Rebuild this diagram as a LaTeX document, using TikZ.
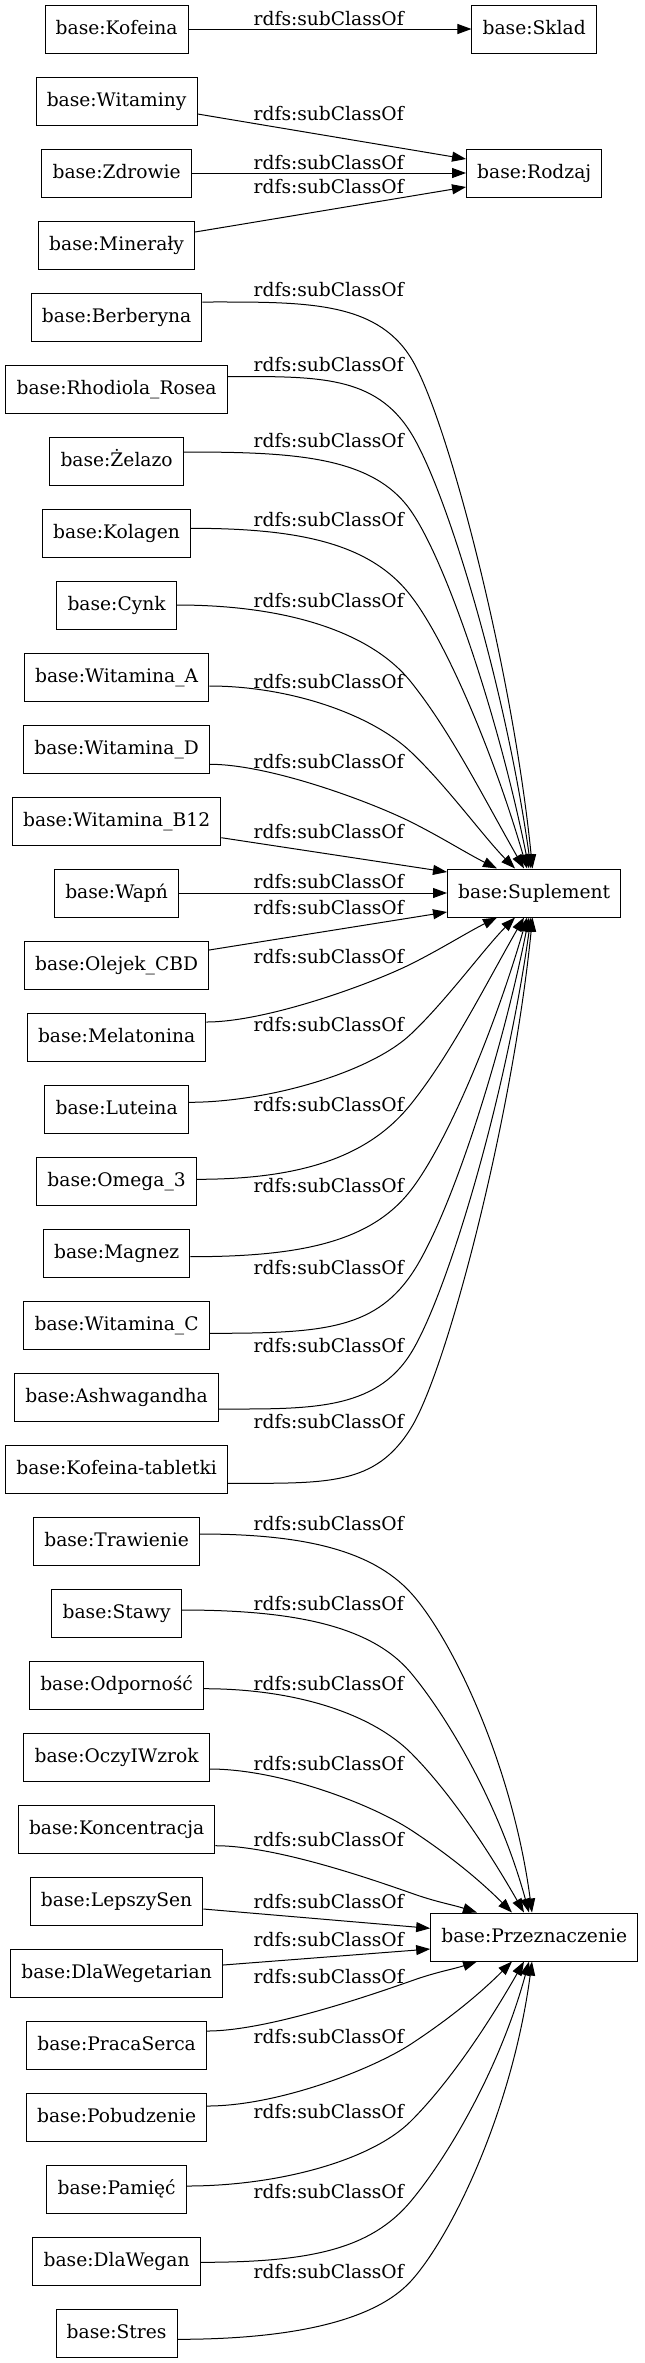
\documentclass[tikz,border=0pt]{standalone}
\usepackage{fontspec}
\setmainfont{DejaVu Serif}
\usetikzlibrary{arrows.meta,calc}

\begin{document}
\begin{tikzpicture}[
        x=0.75pt, y=-0.75pt,
        cls/.style={draw, rectangle, line width=0.75pt, minimum height=36pt, minimum width=54pt,
            inner xsep=8pt, inner ysep=0pt, text height=10.5pt, text depth=3pt,
            font=\fontsize{14pt}{16pt}\selectfont},
        lbl/.style={inner sep=0pt, font=\fontsize{14pt}{16pt}\selectfont},
        sub/.style={draw, line width=0.75pt, -{Triangle[length=10.5pt,width=7.5pt]}},
    ]
    \path[use as bounding box, fill=white] (0,0) rectangle (644,2363);

    % classes on the right
    \node[cls](Sklad) at (534.2,29) {base:Sklad};
    \node[cls](Rodzaj) at (534.2,173) {base:Rodzaj};
    \node[cls](Suplement) at (534.2,893) {base:Suplement};
    \node[cls](Przeznaczenie) at (534.2,1937) {base:Przeznaczenie};

    % subclasses on the left
    \node[cls](Kofeina) at (116.6,29) {base:Kofeina};
    \node[cls](Witaminy) at (116.6,101) {base:Witaminy};
    \node[cls](Zdrowie) at (116.6,173) {base:Zdrowie};
    \node[cls](Mineraly) at (116.6,245) {base:Minerały};
    \node[cls](Berberyna) at (116.6,317) {base:Berberyna};
    \node[cls](Rhodiola) at (116.6,389) {base:Rhodiola\_Rosea};
    \node[cls](Zelazo) at (116.6,461) {base:Żelazo};
    \node[cls](Kolagen) at (116.6,533) {base:Kolagen};
    \node[cls](Cynk) at (116.6,605) {base:Cynk};
    \node[cls](WitA) at (116.6,677) {base:Witamina\_A};
    \node[cls](WitD) at (116.6,749) {base:Witamina\_D};
    \node[cls](WitB12) at (116.6,821) {base:Witamina\_B12};
    \node[cls](Wapn) at (116.6,893) {base:Wapń};
    \node[cls](Olejek) at (116.6,965) {base:Olejek\_CBD};
    \node[cls](Melatonina) at (116.6,1037) {base:Melatonina};
    \node[cls](Luteina) at (116.6,1109) {base:Luteina};
    \node[cls](Omega) at (116.6,1181) {base:Omega\_3};
    \node[cls](Magnez) at (116.6,1253) {base:Magnez};
    \node[cls](WitC) at (116.6,1325) {base:Witamina\_C};
    \node[cls](Ashwagandha) at (116.6,1397) {base:Ashwagandha};
    \node[cls](KofeinaTab) at (116.6,1469) {base:Kofeina-tabletki};
    \node[cls](Trawienie) at (116.6,1541) {base:Trawienie};
    \node[cls](Stawy) at (116.6,1613) {base:Stawy};
    \node[cls](Odpornosc) at (116.6,1685) {base:Odporność};
    \node[cls](Oczy) at (116.6,1757) {base:OczyIWzrok};
    \node[cls](Koncentracja) at (116.6,1829) {base:Koncentracja};
    \node[cls](LepszySen) at (116.6,1901) {base:LepszySen};
    \node[cls](DlaWegetarian) at (116.6,1973) {base:DlaWegetarian};
    \node[cls](PracaSerca) at (116.6,2045) {base:PracaSerca};
    \node[cls](Pobudzenie) at (116.6,2117) {base:Pobudzenie};
    \node[cls](Pamiec) at (116.6,2189) {base:Pamięć};
    \node[cls](DlaWegan) at (116.6,2261) {base:DlaWegan};
    \node[cls](Stres) at (116.6,2333) {base:Stres};

    % edge labels
    \node[lbl](lKofeina) at (328.7,18.3) {rdfs:subClassOf};
    \node[lbl](lWitaminy) at (328.7,113.3) {rdfs:subClassOf};
    \node[lbl](lZdrowie) at (328.7,162.3) {rdfs:subClassOf};
    \node[lbl](lMineraly) at (328.7,186.7) {rdfs:subClassOf};
    \node[lbl](lBerberyna) at (328.7,290) {rdfs:subClassOf};
    \node[lbl](lRhodiola) at (328.7,365) {rdfs:subClassOf};
    \node[lbl](lZelazo) at (328.7,441) {rdfs:subClassOf};
    \node[lbl](lKolagen) at (328.7,520) {rdfs:subClassOf};
    \node[lbl](lCynk) at (328.7,600.7) {rdfs:subClassOf};
    \node[lbl](lWitA) at (328.7,682) {rdfs:subClassOf};
    \node[lbl](lWitD) at (328.7,761.7) {rdfs:subClassOf};
    \node[lbl](lWitB12) at (328.7,831.7) {rdfs:subClassOf};
    \node[lbl](lWapn) at (328.7,881.7) {rdfs:subClassOf};
    \node[lbl](lOlejek) at (328.7,907.3) {rdfs:subClassOf};
    \node[lbl](lMelatonina) at (328.7,956.7) {rdfs:subClassOf};
    \node[lbl](lLuteina) at (328.7,1024.3) {rdfs:subClassOf};
    \node[lbl](lOmega) at (328.7,1105) {rdfs:subClassOf};
    \node[lbl](lMagnez) at (328.7,1186) {rdfs:subClassOf};
    \node[lbl](lWitC) at (328.7,1267.3) {rdfs:subClassOf};
    \node[lbl](lAshwagandha) at (328.7,1345.7) {rdfs:subClassOf};
    \node[lbl](lKofeinaTab) at (328.7,1421.7) {rdfs:subClassOf};
    \node[lbl](lTrawienie) at (328.7,1524) {rdfs:subClassOf};
    \node[lbl](lStawy) at (328.7,1604) {rdfs:subClassOf};
    \node[lbl](lOdpornosc) at (328.7,1683.3) {rdfs:subClassOf};
    \node[lbl](lOczy) at (328.7,1764) {rdfs:subClassOf};
    \node[lbl](lKoncentracja) at (328.7,1840) {rdfs:subClassOf};
    \node[lbl](lLepszySen) at (328.7,1901.7) {rdfs:subClassOf};
    \node[lbl](lDlaWegetarian) at (328.7,1939.3) {rdfs:subClassOf};
    \node[lbl](lPracaSerca) at (328.7,1976.7) {rdfs:subClassOf};
    \node[lbl](lPobudzenie) at (328.7,2036.7) {rdfs:subClassOf};
    \node[lbl](lPamiec) at (328.7,2111.7) {rdfs:subClassOf};
    \node[lbl](lDlaWegan) at (328.7,2191.7) {rdfs:subClassOf};
    \node[lbl](lStres) at (328.7,2271.7) {rdfs:subClassOf};

    % Sklad, Rodzaj
    \draw[sub] (Kofeina) -- (Sklad);
    \draw[sub] ($(Witaminy.east)+(0,13)$) -- ($(Rodzaj.west)+(0,-14)$);
    \draw[sub] (Zdrowie) -- (Rodzaj);
    \draw[sub] ($(Mineraly.east)+(0,-13)$) -- ($(Rodzaj.west)+(0,14)$);

    % Suplement, from above
    \draw[sub] ($(Berberyna.east)+(0,-15)$) .. controls +(100,0) and +(-36,-58) .. (411,358)
        .. controls +(36,58) and +(-20,-200) .. ($(Suplement.north)+(-1.7,0)$);
    \draw[sub] ($(Rhodiola.east)+(0,-12.5)$) .. controls +(90,0) and +(-36,-58) .. (411,433)
        .. controls +(36,58) and +(-25,-180) .. ($(Suplement.north)+(-3.2,0)$);
    \draw[sub] ($(Zelazo.east)+(0,-9)$) .. controls +(110,0) and +(-38,-55) .. (411,511)
        .. controls +(36,52) and +(-30,-150) .. ($(Suplement.north)+(-5.2,0)$);
    \draw[sub] ($(Kolagen.east)+(0,-4.7)$) .. controls +(110,0) and +(-40,-52) .. (411,596)
        .. controls +(34,44) and +(-35,-120) .. ($(Suplement.north)+(-7.2,0)$);
    \draw[sub] (Cynk.east) .. controls +(110,0) and +(-40,-50) .. (411,682)
        .. controls +(40,50) and +(-40,-70) .. ($(Suplement.north)+(-10.2,0)$);
    \draw[sub] ($(WitA.east)+(0,9)$) .. controls +(80,0) and +(-40,-38) .. (411,752)
        .. controls +(35,33) and +(-30,-30) .. ($(Suplement.north)+(-19.2,0)$);
    \draw[sub] ($(WitD.east)+(0,15.3)$) .. controls +(60,0) and +(-40,-20) .. (411,822)
        .. controls +(30,15) and +(-30,-15) .. ($(Suplement.north)+(-37.2,0)$);
    \draw[sub] ($(WitB12.east)+(0,16.7)$) -- ($(Suplement.west)+(0,-21)$);
    \draw[sub] (Wapn) -- (Suplement);

    % Suplement, from below
    \draw[sub] ($(Olejek.east)+(0,-15)$) -- ($(Suplement.west)+(0,19)$);
    \draw[sub] ($(Melatonina.east)+(0,-15)$) .. controls +(60,0) and +(-40,20) .. (411,964)
        .. controls +(30,-15) and +(-30,15) .. ($(Suplement.south)+(-37.2,0)$);
    \draw[sub] ($(Luteina.east)+(0,-6.7)$) .. controls +(80,0) and +(-40,38) .. (411,1034)
        .. controls +(35,-33) and +(-30,30) .. ($(Suplement.south)+(-19.2,0)$);
    \draw[sub] ($(Omega.east)+(0,-1.7)$) .. controls +(110,0) and +(-40,50) .. (411,1104)
        .. controls +(40,-50) and +(-40,70) .. ($(Suplement.south)+(-10.2,0)$);
    \draw[sub] ($(Magnez.east)+(0,3.7)$) .. controls +(110,0) and +(-40,52) .. (411,1190)
        .. controls +(34,-44) and +(-35,120) .. ($(Suplement.south)+(-7.2,0)$);
    \draw[sub] ($(WitC.east)+(0,8.3)$) .. controls +(110,0) and +(-38,55) .. (411,1275)
        .. controls +(36,-52) and +(-30,150) .. ($(Suplement.south)+(-5.2,0)$);
    \draw[sub] ($(Ashwagandha.east)+(0,12)$) .. controls +(90,0) and +(-36,58) .. (411,1353)
        .. controls +(36,-58) and +(-25,180) .. ($(Suplement.south)+(-3.2,0)$);
    \draw[sub] ($(KofeinaTab.east)+(0,14.3)$) .. controls +(100,0) and +(-36,58) .. (411,1428)
        .. controls +(36,-58) and +(-20,200) .. ($(Suplement.south)+(-1.7,0)$);

    % Przeznaczenie, from above
    \draw[sub] ($(Trawienie.east)+(0,-7)$) .. controls +(100,0) and +(-40,-44) .. (411,1593)
        .. controls +(40,44) and +(-20,-150) .. ($(Przeznaczenie.north)+(-2.2,0)$);
    \draw[sub] ($(Stawy.east)+(0,-3)$) .. controls +(110,0) and +(-40,-48) .. (411,1673)
        .. controls +(35,42) and +(-30,-110) .. ($(Przeznaczenie.north)+(-5.2,0)$);
    \draw[sub] ($(Odpornosc.east)+(0,3.7)$) .. controls +(90,0) and +(-40,-40) .. (411,1753)
        .. controls +(35,35) and +(-40,-70) .. ($(Przeznaczenie.north)+(-10.2,0)$);
    \draw[sub] ($(Oczy.east)+(0,12)$) .. controls +(70,0) and +(-40,-26) .. (411,1830)
        .. controls +(35,23) and +(-35,-35) .. ($(Przeznaczenie.north)+(-22.2,0)$);
    \draw[sub] ($(Koncentracja.east)+(0,16.7)$) .. controls +(60,0) and +(-40,-14) .. (411,1893)
        .. controls +(25,9) and +(-25,-8) .. ($(Przeznaczenie.north)+(-57.2,0)$);
    \draw[sub] ($(LepszySen.east)+(0,8)$) -- ($(Przeznaczenie.west)+(0,-8.7)$);

    % Przeznaczenie, from below
    \draw[sub] ($(DlaWegetarian.east)+(0,-8)$) -- ($(Przeznaczenie.west)+(0,12)$);
    \draw[sub] ($(PracaSerca.east)+(0,-14)$) .. controls +(60,0) and +(-40,14) .. (411,1981)
        .. controls +(25,-9) and +(-25,8) .. ($(Przeznaczenie.south)+(-57.2,0)$);
    \draw[sub] ($(Pobudzenie.east)+(0,-11)$) .. controls +(70,0) and +(-40,26) .. (411,2044)
        .. controls +(35,-23) and +(-35,35) .. ($(Przeznaczenie.south)+(-22.2,0)$);
    \draw[sub] ($(Pamiec.east)+(0,-3)$) .. controls +(90,0) and +(-40,40) .. (411,2121)
        .. controls +(35,-35) and +(-40,70) .. ($(Przeznaczenie.south)+(-10.2,0)$);
    \draw[sub] ($(DlaWegan.east)+(0,1.3)$) .. controls +(110,0) and +(-40,48) .. (411,2201)
        .. controls +(35,-42) and +(-30,110) .. ($(Przeznaczenie.south)+(-5.2,0)$);
    \draw[sub] ($(Stres.east)+(0,6.3)$) .. controls +(100,0) and +(-40,44) .. (411,2281)
        .. controls +(40,-44) and +(-20,150) .. ($(Przeznaczenie.south)+(-2.2,0)$);
\end{tikzpicture}
\end{document}
